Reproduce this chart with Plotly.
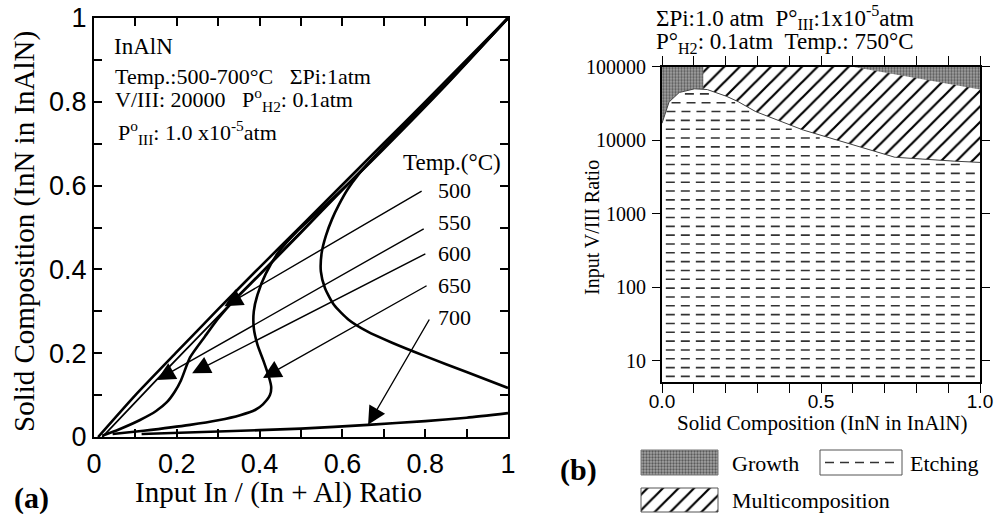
import numpy as np
import plotly.graph_objects as go

# ---------------- panel (a): InN fraction in InAlN vs input In/(In+Al) ----------------
x500 = [0.01, 0.10, 0.20, 0.30, 0.40, 0.50, 0.60, 0.70, 0.80, 0.90, 1.00]
y500 = [0.00, 0.10, 0.203, 0.305, 0.405, 0.503, 0.602, 0.701, 0.80, 0.90, 1.00]

x550 = [0.02, 0.15, 0.30, 0.50, 0.70, 0.85, 1.00]
y550 = [0.00, 0.135, 0.288, 0.49, 0.69, 0.842, 1.00]

x600 = [0.02, 0.06, 0.11, 0.15, 0.176, 0.195, 0.21, 0.232, 0.268, 0.30, 0.34, 0.40, 0.50,
        0.60, 0.70, 0.85, 1.00]
y600 = [0.003, 0.018, 0.04, 0.062, 0.083, 0.108, 0.135, 0.19, 0.24, 0.283, 0.328, 0.387, 0.488,
        0.59, 0.69, 0.842, 1.00]

x650 = [0.045, 0.12, 0.232, 0.30, 0.353, 0.39, 0.408, 0.425, 0.428, 0.422, 0.41, 0.395, 0.386,
        0.386, 0.395, 0.415, 0.445, 0.49, 0.55, 0.62, 0.70, 0.85, 1.00]
y650 = [0.007, 0.015, 0.029, 0.04, 0.052, 0.065, 0.078, 0.10, 0.12, 0.145, 0.18, 0.22, 0.26,
        0.30, 0.34, 0.39, 0.44, 0.49, 0.545, 0.61, 0.688, 0.84, 1.00]

x700_low = [0.115, 0.30, 0.50, 0.662, 0.80, 0.90, 1.00]
y700_low = [0.007, 0.013, 0.02, 0.029, 0.038, 0.046, 0.057]

x700_up = [1.00, 0.90, 0.80, 0.72, 0.66, 0.615, 0.58, 0.558, 0.548, 0.55, 0.56, 0.575, 0.592,
           0.612, 0.64, 0.70, 0.85, 1.00]
y700_up = [0.117, 0.155, 0.193, 0.225, 0.252, 0.28, 0.315, 0.355, 0.395, 0.44, 0.48, 0.52, 0.555,
           0.59, 0.628, 0.693, 0.843, 1.00]

temp_labels = ["500", "550", "600", "650", "700"]
arrow_tip_x = [0.315, 0.152, 0.237, 0.408, 0.662]
arrow_tip_y = [0.312, 0.136, 0.152, 0.141, 0.029]

a_ticks = [0, 0.1, 0.2, 0.3, 0.4, 0.5, 0.6, 0.7, 0.8, 0.9, 1.0]
a_ticktext = ["0", "", "0.2", "", "0.4", "", "0.6", "", "0.8", "", "1"]

# ---------------- panel (b): growth map at 750 C ----------------
etch_x = [0.0, 0.019, 0.05, 0.094, 0.135, 0.176, 0.23, 0.283, 0.333, 0.42, 0.52, 0.63, 0.727, 0.843, 1.0]
etch_top = [17000, 32000, 44000, 50000, 50000, 44000, 35500, 25700, 21000, 14800, 11000, 7800, 5900, 5400, 5000]

multi_x = [0.13, 0.60, 0.79, 1.0]
multi_top = [100000, 100000, 72000, 49000]
multi_left = 0.13
vmax = 100000

b_xticks = [0, 0.1, 0.2, 0.3, 0.4, 0.5, 0.6, 0.7, 0.8, 0.9, 1.0]
b_xticktext = ["0.0", "", "", "", "", "0.5", "", "", "", "", "1.0"]
b_yticks = [10, 100, 1000, 10000, 100000]
b_yticktext = ["10", "100", "1000", "10000", "100000"]

W, H = 997, 514
SERIF = "Liberation Serif, Times New Roman, serif"
SANS = "Liberation Sans, Arial, sans-serif"


def PX(v):
    return v / W


def PY(v):
    return 1 - v / H


fig = go.Figure()

# ---- curves of panel (a)
curve_style = dict(mode="lines", line=dict(color="black", width=2.6, shape="spline", smoothing=0.6),
                   hoverinfo="skip", showlegend=False, xaxis="x", yaxis="y")
fig.add_trace(go.Scatter(x=x500, y=y500, **curve_style))
fig.add_trace(go.Scatter(x=x550, y=y550, mode="lines",
                         line=dict(color="black", width=1.8, shape="spline", smoothing=0.6),
                         hoverinfo="skip", showlegend=False, xaxis="x", yaxis="y"))
for xs, ys in [(x600, y600), (x650, y650), (x700_low, y700_low), (x700_up, y700_up)]:
    fig.add_trace(go.Scatter(x=xs, y=ys, **curve_style))

# ---- regions of panel (b)
xf = np.linspace(0, 1, 501)
log_etch = np.interp(xf, etch_x, np.log10(etch_top))

# growth: everything above the etching boundary
gx = np.r_[xf, xf[::-1]]
gy = np.r_[10 ** log_etch, np.full(xf.size, vmax)]
fig.add_trace(go.Scatter(
    x=gx, y=gy, fill="toself", mode="lines", line=dict(width=0),
    fillcolor="#8e8e8e",
    fillpattern=dict(shape=".", size=3, solidity=0.45, fgcolor="#5a5a5a", bgcolor="#a4a4a4", fillmode="replace"),
    hoverinfo="skip", showlegend=False, xaxis="x2", yaxis="y2"))

# multicomposition: between etching boundary and the upper limit, right of x = multi_left
xm = np.linspace(multi_left, 1, 300)
lo = 10 ** np.interp(xm, etch_x, np.log10(etch_top))
hi = 10 ** np.interp(xm, multi_x, np.log10(multi_top))
fig.add_trace(go.Scatter(
    x=np.r_[xm, xm[::-1]], y=np.r_[lo, hi[::-1]], fill="toself", mode="lines",
    line=dict(width=0), fillcolor="white",
    fillpattern=dict(shape="/", size=11, solidity=0.2, fgcolor="black", bgcolor="white", fillmode="replace"),
    hoverinfo="skip", showlegend=False, xaxis="x2", yaxis="y2"))

# etching: dashed horizontal rows below the boundary
seg_x, seg_y = [], []
for L in np.arange(0.79, 4.75, 0.12):
    inside = log_etch > L + 0.04
    edges = np.flatnonzero(np.diff(np.r_[0, inside.astype(int), 0]))
    for a, b in zip(edges[::2], edges[1::2]):
        x0, x1 = max(xf[a], 0.012), min(xf[b - 1], 0.985)
        if x1 - x0 > 0.01:
            seg_x += [x0, x1, None]
            seg_y += [10 ** L, 10 ** L, None]
fig.add_trace(go.Scatter(x=seg_x, y=seg_y, mode="lines",
                         line=dict(color="#333333", width=1.6, dash="9px,6px"),
                         hoverinfo="skip", showlegend=False, xaxis="x2", yaxis="y2"))

# boundary of the etching region
fig.add_trace(go.Scatter(x=xf, y=10 ** log_etch, mode="lines", line=dict(color="#444", width=1),
                         hoverinfo="skip", showlegend=False, xaxis="x2", yaxis="y2"))


# ---- legend swatches for panel (b), drawn on a pixel-space overlay axis
def box(x0, y0, x1, y1):
    return [x0, x1, x1, x0, x0], [y0, y0, y1, y1, y0]


bx, by = box(641, 450, 718, 475)
fig.add_trace(go.Scatter(x=bx, y=by, fill="toself", mode="lines", line=dict(color="#777", width=1),
                         fillcolor="#8e8e8e",
                         fillpattern=dict(shape=".", size=3, solidity=0.45, fgcolor="#5a5a5a",
                                          bgcolor="#a4a4a4", fillmode="replace"),
                         hoverinfo="skip", showlegend=False, xaxis="x3", yaxis="y3"))
bx, by = box(820, 450, 902, 475)
fig.add_trace(go.Scatter(x=bx, y=by, mode="lines", line=dict(color="#555", width=1),
                         hoverinfo="skip", showlegend=False, xaxis="x3", yaxis="y3"))
fig.add_trace(go.Scatter(x=[825, 899], y=[462.5, 462.5], mode="lines",
                         line=dict(color="#333", width=1.5, dash="9px,6px"),
                         hoverinfo="skip", showlegend=False, xaxis="x3", yaxis="y3"))
bx, by = box(641, 488, 718, 512)
fig.add_trace(go.Scatter(x=bx, y=by, fill="toself", mode="lines", line=dict(color="#555", width=1),
                         fillcolor="white",
                         fillpattern=dict(shape="/", size=11, solidity=0.2, fgcolor="black",
                                          bgcolor="white", fillmode="replace"),
                         hoverinfo="skip", showlegend=False, xaxis="x3", yaxis="y3"))

# ---------------- annotations ----------------
ann = []


def text(x, y, s, size, xanchor="left", font=SERIF, bold=False):
    ann.append(dict(x=PX(x), y=PY(y), xref="paper", yref="paper", text=f"<b>{s}</b>" if bold else s,
                    showarrow=False, xanchor=xanchor, yanchor="middle",
                    font=dict(family=font, size=size, color="black")))


NB = "\u00a0"
text(112, 46, "InAlN", 23)
text(113, 76, f"Temp.:500-700°C{NB*3}ΣPi:1atm", 22)
text(113, 100, f"V/III: 20000{NB*3}P<sup>o</sup><sub>H2</sub>: 0.1atm", 22)
text(116, 133, "P<sup>o</sup><sub>III</sub>: 1.0 x10<sup>-5</sup>atm", 22)
text(503, 162, "Temp.(°C)", 23, xanchor="right")
label_y = [190, 222, 253, 285, 317]
for lab, ly in zip(temp_labels, label_y):
    text(436, ly, lab, 22)

# arrows from the temperature labels to their curves
tail_x = [0.795, 0.80, 0.804, 0.807, 0.812]
tail_y = [0.589, 0.499, 0.439, 0.363, 0.284]
for tx, ty, hx, hy in zip(tail_x, tail_y, arrow_tip_x, arrow_tip_y):
    ann.append(dict(x=hx, y=hy, ax=tx, ay=ty, xref="x", yref="y", axref="x", ayref="y",
                    text="", showarrow=True, arrowhead=2, arrowsize=2.6, arrowwidth=1.4,
                    arrowcolor="black", standoff=0))

text(12, 498, "(a)", 30, bold=True)
text(558, 470, "(b)", 30, bold=True)

# panel (b) header lines
text(785, 18, f"ΣPi:1.0 atm{NB*2}P°<sub>III</sub>:1x10<sup>-5</sup>atm", 23, xanchor="center")
text(785, 43, f"P°<sub>H2</sub>: 0.1atm{NB*2}Temp.: 750°C", 23, xanchor="center")

# legend labels
text(730, 463, "Growth", 22)
text(908, 463, "Etching", 22)
text(730, 500, "Multicomposition", 22)

# axis titles
text(278, 492, "Input In / (In + Al) Ratio", 29, xanchor="center")
ann.append(dict(x=PX(25), y=PY(232), xref="paper", yref="paper", text="Solid Composition (InN in InAlN)",
                showarrow=False, textangle=-90, xanchor="center", yanchor="middle",
                font=dict(family=SERIF, size=29, color="black")))
text(822, 423, "Solid Composition (InN in InAlN)", 21, xanchor="center")
ann.append(dict(x=PX(592), y=PY(228), xref="paper", yref="paper", text="Input V/III Ratio",
                showarrow=False, textangle=-90, xanchor="center", yanchor="middle",
                font=dict(family=SERIF, size=20, color="black")))

# ---------------- axes ----------------
fig.update_layout(
    width=W, height=H, margin=dict(l=0, r=0, t=0, b=0, pad=0, autoexpand=False),
    paper_bgcolor="white", plot_bgcolor="rgba(0,0,0,0)",
    annotations=ann,
    xaxis=dict(domain=[PX(94), PX(508)], range=[0, 1], anchor="y",
               tickvals=a_ticks, ticktext=a_ticktext, ticks="inside", ticklen=8, tickwidth=1.5,
               tickcolor="black", showline=True, linecolor="black", linewidth=2, mirror="allticks",
               showgrid=False, zeroline=False, ticklabelstandoff=2,
               tickfont=dict(family=SANS, size=27, color="black")),
    yaxis=dict(domain=[PY(437), PY(18)], range=[0, 1], anchor="x",
               tickvals=a_ticks, ticktext=a_ticktext, ticks="inside", ticklen=8, tickwidth=1.5,
               tickcolor="black", showline=True, linecolor="black", linewidth=2, mirror="allticks",
               showgrid=False, zeroline=False, ticklabelstandoff=0,
               tickfont=dict(family=SANS, size=27, color="black")),
    xaxis2=dict(domain=[PX(662), PX(980)], range=[0, 1], anchor="y2",
                tickvals=b_xticks, ticktext=b_xticktext, ticks="outside", ticklen=9, tickwidth=1.2,
                tickcolor="black", showline=True, linecolor="black", linewidth=2, mirror="allticks",
                showgrid=False, zeroline=False, ticklabelstandoff=-8,
                tickfont=dict(family=SANS, size=19, color="black")),
    yaxis2=dict(domain=[PY(382), PY(66.7)], type="log", range=[0.714, 5.0], anchor="x2",
                tickvals=b_yticks, ticktext=b_yticktext, ticks="outside", ticklen=8, tickwidth=1.2,
                tickcolor="black", showline=True, linecolor="black", linewidth=2, mirror="allticks",
                showgrid=False, zeroline=False, ticklabelstandoff=2,
                tickfont=dict(family=SERIF, size=20, color="black")),
    xaxis3=dict(domain=[0, 1], range=[0, W], anchor="y3", visible=False, fixedrange=True),
    yaxis3=dict(domain=[0, 1], range=[H, 0], anchor="x3", visible=False, fixedrange=True),
)

fig.write_html("out.html")
